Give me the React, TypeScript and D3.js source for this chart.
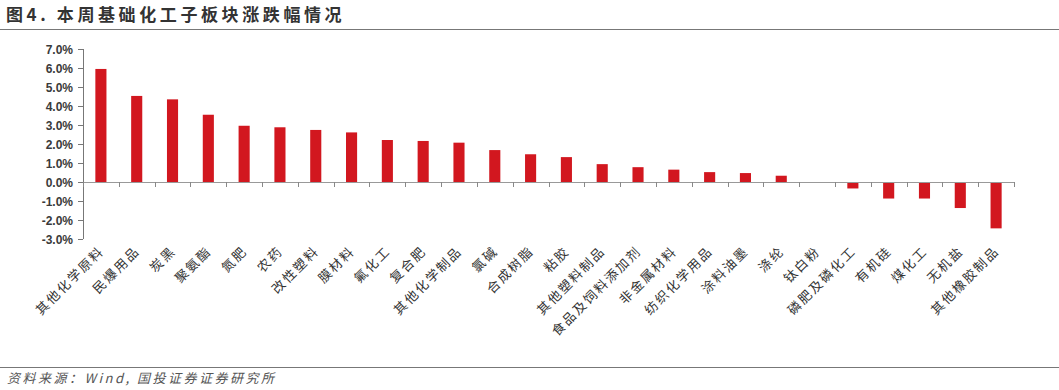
import React from "react";
import * as d3 from "d3";

const categories = ["其他化学原料","民爆用品","炭黑","聚氨酯","氮肥","农药","改性塑料","膜材料","氟化工","复合肥","其他化学制品","氯碱","合成树脂","粘胶","其他塑料制品","食品及饲料添加剂","非金属材料","纺织化学用品","涂料油墨","涤纶","钛白粉","磷肥及磷化工","有机硅","煤化工","无机盐","其他橡胶制品"];
const values = [5.95,4.53,4.35,3.54,2.96,2.88,2.74,2.61,2.21,2.16,2.07,1.68,1.46,1.31,0.94,0.78,0.65,0.52,0.47,0.33,0.0,-0.34,-0.87,-0.87,-1.37,-2.44];
const yTicks = [7,6,5,4,3,2,1,0,-1,-2,-3];

const W = 1059, H = 390;
const left = 83, right = 1014, top = 49, bottom = 239;

export default function App() {
  const x = d3.scaleBand().domain(categories).range([left, right]).paddingInner(0.69).paddingOuter(0.345);
  const y = d3.scaleLinear().domain([-3, 7]).range([bottom, top]);
  const band = (right - left) / categories.length;
  const zero = y(0);
  const cjk = "'Noto Sans CJK SC', sans-serif";
  return (
    <svg width={W} height={H} style={{ position: "absolute", left: 0, top: 0, background: "#fff" }}>
      <text x={6} y={21} fontFamily={cjk} fontWeight="bold" fontSize={17} letterSpacing={3.6} fill="#333">图4. 本周基础化工子板块涨跌幅情况</text>
      <line x1={0} x2={W} y1={29.5} y2={29.5} stroke="#777" strokeWidth={1.2} />
      {/* y axis */}
      <line x1={left + 0.5} x2={left + 0.5} y1={top} y2={bottom} stroke="#777" />
      {yTicks.map((t) => (
        <g key={t}>
          <line x1={left - 5} x2={left} y1={Math.round(y(t)) + 0.5} y2={Math.round(y(t)) + 0.5} stroke="#777" />
          <text x={73} y={y(t) + 4.5} textAnchor="end" fontFamily="Arial, 'Liberation Sans', sans-serif" fontWeight="bold" fontSize={12} fill="#3a3a3a">{t.toFixed(1) + "%"}</text>
        </g>
      ))}
      {/* bars */}
      {categories.map((c, i) => {
        const v = values[i];
        const y0 = y(Math.max(0, v));
        const h = Math.abs(y(v) - zero);
        return <rect key={c} x={x(c)} y={y0} width={x.bandwidth()} height={h} fill="#D2171F" />;
      })}
      {/* x axis */}
      <line x1={left} x2={right} y1={zero + 0.5} y2={zero + 0.5} stroke="#999" strokeWidth={1.2} />
      {d3.range(categories.length + 1).map((i) => (
        <line key={i} x1={Math.round(left + i * band) + 0.5} x2={Math.round(left + i * band) + 0.5} y1={zero} y2={zero + 5} stroke="#888" />
      ))}
      {categories.map((c) => {
        const cx = (x(c) as number) + x.bandwidth() / 2 + 4;
        const cy = 252;
        return (
          <text key={c} x={cx} y={cy} transform={`rotate(-45 ${cx} ${cy})`} textAnchor="end" fontFamily={cjk} fontSize={13} letterSpacing={2} fill="#333">{c}</text>
        );
      })}
      <line x1={0} x2={W} y1={367.5} y2={367.5} stroke="#777" strokeWidth={1.2} />
      <text x={7} y={383} fontFamily={cjk} fontStyle="italic" fontSize={13} letterSpacing={2.5} fill="#555">资料来源：Wind, 国投证券证券研究所</text>
    </svg>
  );
}
